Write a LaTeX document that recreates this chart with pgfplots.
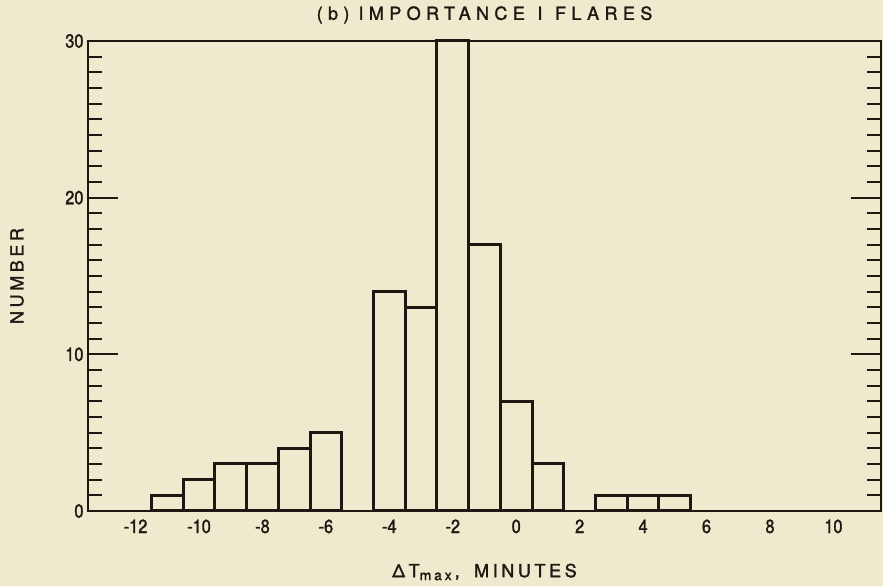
\documentclass[border=0pt]{standalone}
\usepackage{fontspec}
\setmainfont{TeX Gyre Heros}[FakeBold=1.6]
\newfontfamily\titlefont{TeX Gyre Heros}[LetterSpace=30, FakeBold=1.6]
\newfontfamily\labelfont{TeX Gyre Heros}[LetterSpace=20, FakeBold=1.6]
\newfontfamily\narrowfont{TeX Gyre Heros}[FakeStretch=0.86, FakeBold=1.6]
\usepackage{pgfplots}
\pgfplotsset{compat=1.18}
\definecolor{paper}{HTML}{EFE9CD}
\definecolor{ink}{HTML}{1E1812}

\begin{document}
\begin{tikzpicture}
\fill[paper] (-88pt,-75pt) rectangle (795pt,511pt);
\path[use as bounding box] (-88pt,-75pt) rectangle (795pt,511pt);
\begin{axis}[
  scale only axis, width=793pt, height=470pt,
  xmin=-13.5, xmax=11.5, ymin=0, ymax=30,
  clip=false,
  axis line style={line width=2.8pt, draw=ink},
  tick style={line width=2.2pt, draw=ink},
  xtick pos=left, ytick pos=both, yticklabel pos=left,
  xtick={-12,-10,...,10},
  xticklabels={-12,-10,-8,-6,-4,-2,0,2,4,6,8,10},
  major x tick style={draw=none},
  extra x ticks={-12.5,6.5,7.5,8.5,9.5,10.5},
  extra x tick labels={},
  extra x tick style={major tick length=14pt, tick style={draw=ink, line width=2.2pt}},
  ytick={0,10,20,30},
  yticklabels={0,10,20,30},
  minor y tick num=9,
  major tick length=30pt, minor tick length=14pt,
  tick label style={font=\narrowfont\fontsize{19}{19}\selectfont, text=ink},
  xticklabel style={yshift=-5pt},
  yticklabel style={xshift=-1pt},
  title={(b)\hspace{0.5em}IMPORTANCE\hspace{0.7em}I\hspace{0.7em}FLARES},
  title style={font=\titlefont\fontsize{18}{18}\selectfont, text=ink,
    at={(axis description cs:0.5,1.0426)}, anchor=center},
  xlabel={ΔT{\fontsize{14}{14}\selectfont\raisebox{-3pt}{max}}\,,\hspace{0.8em}MINUTES},
  xlabel style={font=\labelfont\fontsize{18}{18}\selectfont, text=ink,
    at={(axis description cs:0.5,-0.1298)}, anchor=center},
  ylabel={NUMBER},
  ylabel style={font=\labelfont\fontsize{18}{18}\selectfont, text=ink,
    at={(axis description cs:-0.0895,0.5)}, anchor=center, rotate=0},
]
\addplot[ybar, bar width=1, bar shift=0pt, draw=ink, fill=paper, line width=3pt]
  coordinates {(-11,1) (-10,2) (-9,3) (-8,3) (-7,4) (-6,5)
               (-4,14) (-3,13) (-2,30) (-1,17) (0,7) (1,3)
               (3,1) (4,1) (5,1)};
\end{axis}
\end{tikzpicture}
\end{document}
